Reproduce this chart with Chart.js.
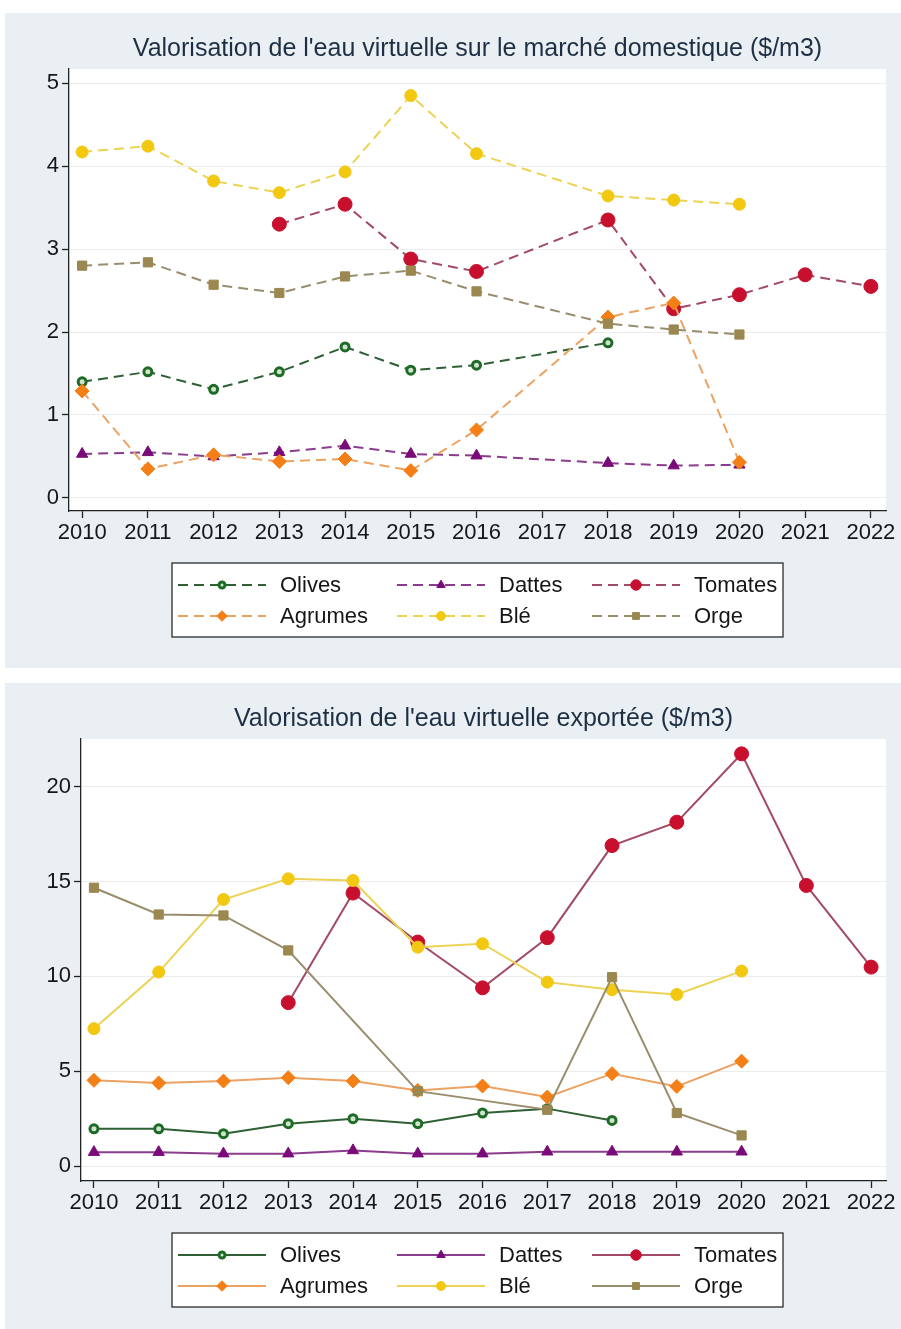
<!DOCTYPE html>
<html lang="fr">
<head>
<meta charset="UTF-8">
<title>Valorisation de l'eau virtuelle</title>
<script src="https://cdn.jsdelivr.net/npm/chart.js"></script>
<style>
    body { margin: 0; background: #fff; }
    .panel { position: absolute; left: 5px; width: 896px; background: #e9eff3; }
    #p1 { top: 13px; height: 655px; }
    #p2 { top: 683px; height: 646px; }
</style>
</head>
<body>
<div class="panel" id="p1"><canvas id="domChart"></canvas></div>
<div class="panel" id="p2"><canvas id="expChart"></canvas></div>
<script>
// years on the x axis (2017 missing for most series)
const years = [2010, 2011, 2012, 2013, 2014, 2015, 2016, 2017, 2018, 2019, 2020, 2021, 2022];
const domYTicks = [0, 1, 2, 3, 4, 5];
const expYTicks = [0, 5, 10, 15, 20];

// marché domestique ($/m3)
const domOlives  = [1.40, 1.52, 1.31, 1.52, 1.82, 1.54, 1.60, null, 1.87, null, null, null, null];
const domDattes  = [0.53, 0.55, 0.50, 0.55, 0.63, 0.53, 0.51, null, 0.42, 0.39, 0.40, null, null];
const domTomates = [null, null, null, 3.30, 3.54, 2.88, 2.73, null, 3.35, 2.28, 2.45, 2.69, 2.55];
const domAgrumes = [1.29, 0.35, 0.52, 0.44, 0.47, 0.33, 0.82, null, 2.18, 2.35, 0.43, null, null];
const domBle     = [4.17, 4.24, 3.82, 3.68, 3.93, 4.85, 4.15, null, 3.64, 3.59, 3.54, null, null];
const domOrge    = [2.80, 2.84, 2.57, 2.47, 2.67, 2.74, 2.49, null, 2.10, 2.03, 1.97, null, null];

// exportée ($/m3)
const expOlives  = [1.98, 1.98, 1.72, 2.25, 2.51, 2.25, 2.81, 3.04, 2.42, null, null, null, null];
const expDattes  = [0.75, 0.75, 0.67, 0.67, 0.84, 0.67, 0.67, 0.77, 0.77, 0.77, 0.77, null, null];
const expTomates = [null, null, null, 8.62, 14.39, 11.81, 9.40, 12.04, 16.89, 18.12, 21.72, 14.79, 10.49];
const expAgrumes = [4.53, 4.39, 4.49, 4.67, 4.49, 4.00, 4.23, 3.65, 4.88, 4.21, 5.54, null, null];
const expBle     = [7.25, 10.23, 14.05, 15.14, 15.05, 11.54, 11.72, 9.70, 9.30, 9.05, 10.28, null, null];
const expOrge    = [14.67, 13.26, 13.21, 11.37, null, 3.96, null, 2.98, 9.96, 2.81, 1.63, null, null];

const FONT = '"Liberation Sans", Arial, sans-serif';
Chart.defaults.font.family = FONT;

// style per product: line colour, marker colour, marker shape
const styles = [
    { label: 'Olives',  line: '#2f5f35', point: '#1d6b25', fill: '#cfe3cf', shape: 'circle',   r: 4,   bw: 3 },
    { label: 'Dattes',  line: '#8c3c8c', point: '#7a0a7a', fill: '#7a0a7a', shape: 'triangle', r: 6.5, bw: 1 },
    { label: 'Tomates', line: '#a24a66', point: '#c8102e', fill: '#c8102e', shape: 'circle',   r: 7,   bw: 1 },
    { label: 'Agrumes', line: '#eba263', point: '#f57f17', fill: '#f57f17', shape: 'rectRot',  r: 7,   bw: 1 },
    { label: 'Blé',     line: '#ecd354', point: '#f2c811', fill: '#f2c811', shape: 'circle',   r: 6,   bw: 1 },
    { label: 'Orge',    line: '#988d6c', point: '#9b8750', fill: '#9b8750', shape: 'rect',     r: 6.5, bw: 1 }
];

function toPoints(values) {
    return years.map((y, i) => ({ x: y, y: values[i] })).filter(p => p.y !== null);
}

function makeDatasets(seriesList, dash, lineWidth) {
    return seriesList.map((vals, i) => {
        const s = styles[i];
        return {
            label: s.label,
            data: toPoints(vals),
            borderColor: s.line,
            borderWidth: lineWidth,
            borderDash: dash,
            pointStyle: s.shape,
            pointRadius: s.r,
            pointBackgroundColor: s.fill,
            pointBorderColor: s.point,
            pointBorderWidth: s.bw,
            tension: 0,
            order: seriesList.length - i
        };
    });
}

const plotBg = {
    id: 'plotBg',
    beforeDraw(chart) {
        const a = chart.chartArea;
        chart.ctx.save();
        chart.ctx.fillStyle = '#ffffff';
        chart.ctx.fillRect(a.left, a.top, a.right - a.left, a.bottom - a.top);
        chart.ctx.restore();
    }
};

// legend in a bordered box, 3 columns x 2 rows, line sample with marker
const boxLegend = {
    id: 'boxLegend',
    afterDraw(chart, args, o) {
        const ctx = chart.ctx;
        const top = chart.chartArea.bottom + o.offset;
        ctx.save();
        ctx.fillStyle = '#ffffff';
        ctx.fillRect(o.left, top, o.width, o.height);
        ctx.strokeStyle = '#2b2b2b';
        ctx.lineWidth = 1.3;
        ctx.strokeRect(o.left, top, o.width, o.height);
        chart.data.datasets.forEach((ds, i) => {
            const x0 = o.cols[i % 3];
            const y = top + o.rows[Math.floor(i / 3)];
            ctx.strokeStyle = ds.borderColor;
            ctx.lineWidth = ds.borderWidth;
            ctx.setLineDash(ds.borderDash || []);
            ctx.beginPath();
            ctx.moveTo(x0, y);
            ctx.lineTo(x0 + o.lineLen, y);
            ctx.stroke();
            ctx.setLineDash([]);
            ctx.fillStyle = ds.pointBackgroundColor;
            ctx.strokeStyle = ds.pointBorderColor;
            ctx.lineWidth = ds.pointBorderWidth;
            Chart.helpers.drawPoint(ctx, {
                pointStyle: ds.pointStyle,
                radius: ds.pointRadius * 0.75,
                rotation: 0,
                borderWidth: ds.pointBorderWidth
            }, x0 + o.lineLen / 2, y);
            ctx.fillStyle = '#161616';
            ctx.font = '22px ' + FONT;
            ctx.textBaseline = 'middle';
            ctx.textAlign = 'left';
            ctx.fillText(ds.label, x0 + o.lineLen + o.gap, y + 1);
        });
        ctx.restore();
    }
};

function makeChart(id, title, datasets, yMin, yMax, yTicks, yWidth, legendSpace) {
    return new Chart(document.getElementById(id), {
        type: 'line',
        data: { datasets: datasets },
        plugins: [plotBg, boxLegend],
        options: {
            responsive: true,
            maintainAspectRatio: false,
            animation: false,
            spanGaps: true,
            layout: { padding: { top: 0, right: 15, bottom: legendSpace, left: 0 } },
            plugins: {
                legend: { display: false },
                tooltip: { enabled: false },
                title: {
                    display: true,
                    text: title,
                    fullSize: false,
                    color: '#1e2f44',
                    font: { size: 25, weight: 'normal' },
                    padding: { top: 21, bottom: 5 }
                },
                boxLegend: {
                    offset: 52, left: 167, width: 611, height: 74,
                    cols: [173, 392, 587], rows: [22, 53],
                    lineLen: 88, gap: 14
                }
            },
            scales: {
                x: {
                    type: 'linear',
                    min: 2009.8,
                    max: 2022.23,
                    afterBuildTicks: s => { s.ticks = years.map(v => ({ value: v })); },
                    afterFit: s => { s.height = 40; },
                    border: { color: '#222', width: 1.3 },
                    grid: { drawOnChartArea: false, drawTicks: true, tickLength: 7, tickColor: '#222', tickWidth: 1.3 },
                    ticks: { color: '#161616', font: { size: 22 }, padding: 2, maxRotation: 0, autoSkip: false,
                             callback: v => String(v) }
                },
                y: {
                    min: yMin,
                    max: yMax,
                    afterBuildTicks: s => { s.ticks = yTicks.map(v => ({ value: v })); },
                    afterFit: s => { s.width = yWidth; },
                    border: { color: '#222', width: 1.3 },
                    grid: { color: '#ececec', lineWidth: 1, drawTicks: true, tickLength: 7, tickColor: '#222', tickWidth: 1.3 },
                    ticks: { color: '#161616', font: { size: 22 }, padding: 3 }
                }
            }
        }
    });
}

makeChart('domChart', "Valorisation de l'eau virtuelle sur le marché domestique ($/m3)",
    makeDatasets([domOlives, domDattes, domTomates, domAgrumes, domBle, domOrge], [10, 6], 2),
    -0.157, 5.17, domYTicks, 64, 117);

makeChart('expChart', "Valorisation de l'eau virtuelle exportée ($/m3)",
    makeDatasets([expOlives, expDattes, expTomates, expAgrumes, expBle, expOrge], [], 2),
    -0.77, 22.5, expYTicks, 76, 108);
</script>
</body>
</html>
